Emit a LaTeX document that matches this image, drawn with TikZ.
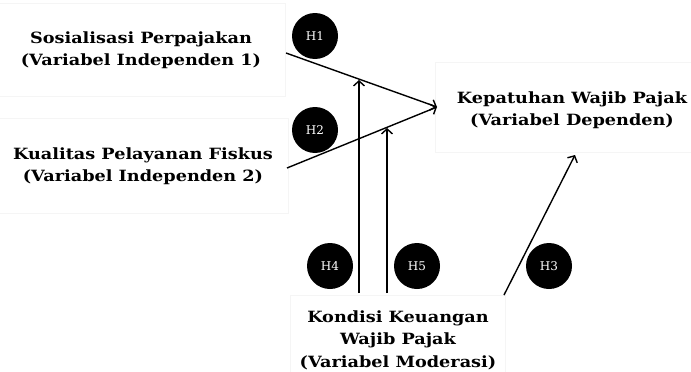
\documentclass[tikz,border=0pt]{standalone}
\usepackage{fontspec}
\setmainfont{DejaVu Serif}
\newfontfamily\lblfont[FakeStretch=1.14]{DejaVu Serif}
\usetikzlibrary{arrows.meta}
\begin{document}
\begin{tikzpicture}[x=1pt,y=-1pt,
  lbl/.style={font=\lblfont\bfseries\fontsize{15.5}{22.5}\selectfont, align=center, inner sep=0pt},
  hyp/.style={circle, fill=black, minimum size=46pt, inner sep=0pt, text=white, font=\fontsize{12}{13}\selectfont},
  conn/.style={line width=1.4pt, -{Straight Barb[length=5pt,width=11pt]}},
  faint/.style={draw=black!4, line width=0.8pt}]
\useasboundingbox (0,0) rectangle (691,372);
% faint frames
\draw[faint] (-2,3) rectangle (285,96);
\draw[faint] (-2,118) rectangle (288,213);
\draw[faint] (435,62) rectangle (695,152);
\draw[faint] (290,295) rectangle (505,380);
% labels
\node[lbl] (s1) at (141,50) {Sosialisasi Perpajakan\\(Variabel Independen 1)};
\node[lbl] (s2) at (143,166) {Kualitas Pelayanan Fiskus\\(Variabel Independen 2)};
\node[lbl] (dep) at (572,110) {Kepatuhan Wajib Pajak\\(Variabel Dependen)};
\node[lbl] (mod) at (398,340) {Kondisi Keuangan\\Wajib Pajak\\(Variabel Moderasi)};
% hypotheses
\node[hyp] (h1) at (315,36) {H1};
\node[hyp] (h2) at (315,130) {H2};
\node[hyp] (h4) at (330,266) {H4};
\node[hyp] (h5) at (417,266) {H5};
\node[hyp] (h3) at (549,266) {H3};
% connector end points
\coordinate (s1out) at (286,53);
\coordinate (s2out) at (287,168);
\coordinate (depin) at (437,107);
\coordinate (m1) at (359,293);
\coordinate (m1end) at (359,80);
\coordinate (m2) at (387,293);
\coordinate (m2end) at (387,128);
\coordinate (m3) at (504,295);
\coordinate (depbot) at (575,155);
% connectors
\draw[conn] (s1out) -- (depin);
\draw[conn] (s2out) -- (depin);
\draw[conn] (m1) -- (m1end);
\draw[conn] (m2) -- (m2end);
\draw[conn] (m3) -- (depbot);
\end{tikzpicture}
\end{document}
